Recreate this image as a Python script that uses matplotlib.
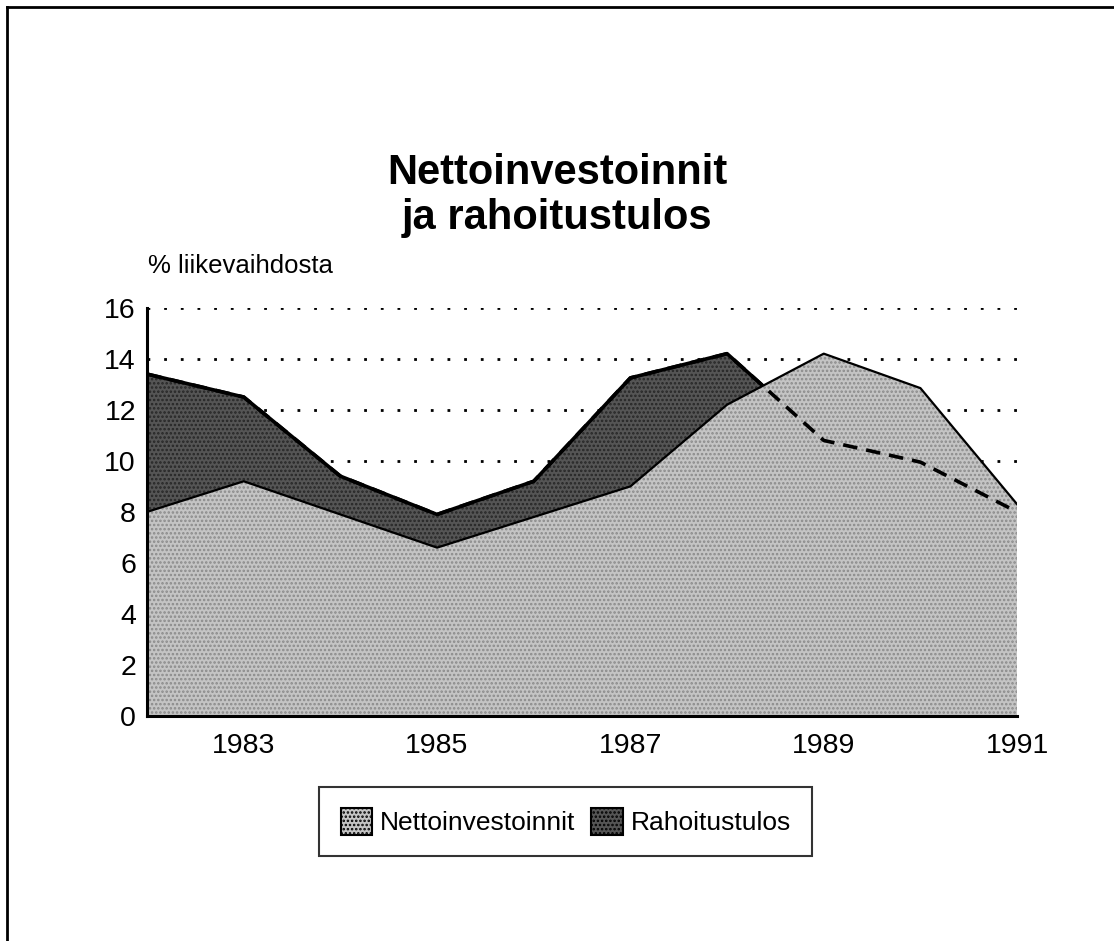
import matplotlib.pyplot as plt
from matplotlib.lines import Line2D
from matplotlib.patches import Patch

plt.rcParams['font.family'] = ['Liberation Sans', 'DejaVu Sans']
plt.rcParams['hatch.linewidth'] = 1.2

# data
years = [1982, 1983, 1984, 1985, 1986, 1987, 1988, 1989, 1990, 1991]
netto = [8.0, 9.2, 7.9, 6.6, 7.8, 9.0, 12.2, 14.2, 12.85, 8.3]
rahoitus = [13.4, 12.5, 9.4, 7.9, 9.2, 13.25, 14.2, 10.8, 9.95, 8.0]
tick_years = [1983, 1985, 1987, 1989, 1991]
y_ticks = [0, 2, 4, 6, 8, 10, 12, 14, 16]

light = '#c4c4c4'
dark = '#555555'

fig = plt.figure(figsize=(11.14, 9.41), dpi=100)
ax = fig.add_axes([0.132, 0.239, 0.781, 0.434])

# dotted grid behind the areas
for v in y_ticks[1:]:
    ax.axhline(v, color='black', linestyle=(0, (1, 5)), linewidth=2, zorder=0)

# Rahoitustulos (dark) behind, Nettoinvestoinnit (light) in front
ax.fill_between(years, 0, rahoitus, facecolor=dark, edgecolor='#262626',
                hatch='....', linewidth=0, zorder=1)
ax.plot(years, rahoitus, color='black', linewidth=2.6, zorder=2)
ax.fill_between(years, 0, netto, facecolor=light, edgecolor='#8a8a8a',
                hatch='....', linewidth=0, zorder=3)
ax.plot(years, netto, color='black', linewidth=1.6, zorder=4)
# hidden part of Rahoitustulos shows as a dashed line over the light area
ax.plot(years, rahoitus, color='black', linewidth=2.6, linestyle=(0, (4, 2.5)), zorder=5)

ax.set_xlim(1982, 1991)
ax.set_ylim(0, 16)
ax.set_xticks(tick_years)
ax.set_xticklabels([str(y) for y in tick_years])
ax.set_yticks(y_ticks)
ax.tick_params(length=0, labelsize=20.5, pad=8)
ax.tick_params(axis='x', pad=12)
for side in ['top', 'right']:
    ax.spines[side].set_visible(False)
for side in ['left', 'bottom']:
    ax.spines[side].set_linewidth(2.2)
    ax.spines[side].set_zorder(6)

fig.text(0.133, 0.705, '% liikevaihdosta', fontsize=18.5, ha='left', va='bottom')

fig.text(0.5, 0.792, 'Nettoinvestoinnit\nja rahoitustulos', fontsize=30,
         fontweight='bold', ha='center', va='center', linespacing=1.15)

handles = [
    Patch(facecolor=light, edgecolor='black', hatch='....', linewidth=1.5),
    Patch(facecolor=dark, edgecolor='black', hatch='....', linewidth=1.5),
]
leg = fig.legend(handles, ['Nettoinvestoinnit', 'Rahoitustulos'], loc='center',
                 bbox_to_anchor=(0.508, 0.127), ncol=2, fontsize=19, frameon=True,
                 fancybox=False, edgecolor='black', handlelength=1.2,
                 handleheight=1.2, handletextpad=0.3, columnspacing=0.6,
                 borderpad=0.8)
leg.get_frame().set_linewidth(1.5)

# page frame (top and left edges)
fig.add_artist(Line2D([0.006, 1.0], [0.993, 0.993], color='black', linewidth=2))
fig.add_artist(Line2D([0.006, 0.006], [0.0, 0.993], color='black', linewidth=2))

fig.savefig('out.png', dpi=100)
